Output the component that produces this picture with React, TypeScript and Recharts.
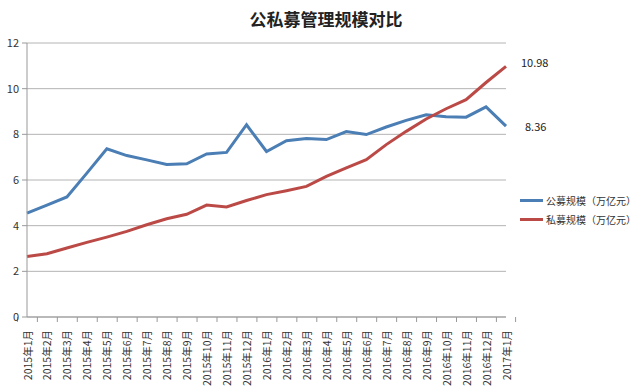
import React from 'react';
import { LineChart, Line, XAxis, YAxis, CartesianGrid, LabelList } from 'recharts';

const months = [
  '2015年1月', '2015年2月', '2015年3月', '2015年4月', '2015年5月', '2015年6月',
  '2015年7月', '2015年8月', '2015年9月', '2015年10月', '2015年11月', '2015年12月',
  '2016年1月', '2016年2月', '2016年3月', '2016年4月', '2016年5月', '2016年6月',
  '2016年7月', '2016年8月', '2016年9月', '2016年10月', '2016年11月', '2016年12月',
  '2017年1月',
];

// 公募规模（万亿元）
const publicFunds = [
  4.55, 4.9, 5.26, 6.3, 7.37, 7.07, 6.88, 6.68, 6.71, 7.14, 7.21, 8.42,
  7.25, 7.72, 7.82, 7.77, 8.12, 7.99, 8.32, 8.61, 8.86, 8.77, 8.75, 9.2, 8.36,
];

// 私募规模（万亿元）
const privateFunds = [
  2.65, 2.77, 3.02, 3.27, 3.5, 3.75, 4.04, 4.3, 4.5, 4.9, 4.82, 5.1,
  5.36, 5.53, 5.72, 6.16, 6.53, 6.89, 7.55, 8.13, 8.67, 9.12, 9.52, 10.27, 10.98,
];

const yTicks = [0, 2, 4, 6, 8, 10, 12];

const seriesNames = ['公募规模（万亿元）', '私募规模（万亿元）'];

const data = months.map((month, i) => ({
  month,
  publicFunds: publicFunds[i],
  privateFunds: privateFunds[i],
}));

const BLUE = '#4a7eb4';
const RED = '#bb4a47';
const FONT = '"Noto Sans CJK SC", "DejaVu Sans", sans-serif';

const W = 640;
const H = 386;
const margin = { top: 43, right: 134, left: 7, bottom: 7 };
const Y_AXIS_W = 20;
const plotW = W - margin.left - margin.right - Y_AXIS_W;
const half = plotW / months.length / 2;

const MonthTick = (props: any) => {
  const { x, y, payload, index } = props;
  return (
    <g>
      <line x1={x - half} x2={x - half} y1={y - 8} y2={y - 3} stroke="#999" />
      {index === months.length - 1 && (
        <line x1={x + half} x2={x + half} y1={y - 8} y2={y - 3} stroke="#999" />
      )}
      <text
        x={x}
        y={y + 5}
        transform={`rotate(-90, ${x}, ${y + 5})`}
        textAnchor="end"
        dominantBaseline="central"
        fontSize={10.5}
        fontFamily={FONT}
        fill="#333"
      >
        {payload.value}
      </text>
    </g>
  );
};

const endLabel = (dx: number, dy: number) => (props: any) => {
  const { x, y, value, index } = props;
  if (index !== months.length - 1) return null;
  return (
    <text x={x + dx} y={y + dy} fontSize={11} fontFamily={FONT} fill="#222" dominantBaseline="central">
      {Number(value).toFixed(2)}
    </text>
  );
};

const LegendBox = () => (
  <div
    style={{
      position: 'absolute',
      left: 520,
      top: 191,
      fontFamily: FONT,
      fontSize: 10,
      color: '#333',
      lineHeight: '19px',
    }}
  >
    {[BLUE, RED].map((color, i) => (
      <div key={seriesNames[i]} style={{ display: 'flex', alignItems: 'center', whiteSpace: 'nowrap' }}>
        <span style={{ display: 'inline-block', width: 23, height: 3, background: color, marginRight: 3 }} />
        {seriesNames[i]}
      </div>
    ))}
  </div>
);

export default function App() {
  return (
    <div style={{ position: 'absolute', left: 0, top: 0, width: W, height: H, background: '#fff' }}>
      <div
        style={{
          position: 'absolute',
          top: 6,
          left: 0,
          width: W,
          textAlign: 'center',
          paddingLeft: 12,
          boxSizing: 'border-box',
          fontFamily: FONT,
          fontSize: 17,
          fontWeight: 'bold',
          color: '#222',
        }}
      >
        公私募管理规模对比
      </div>
      <LineChart width={W} height={H} data={data} margin={margin}>
        <CartesianGrid vertical={false} stroke="#b4b4b4" />
        <XAxis
          dataKey="month"
          interval={0}
          height={62}
          tickLine={false}
          axisLine={{ stroke: '#999' }}
          tick={<MonthTick />}
        />
        <YAxis
          width={Y_AXIS_W}
          domain={[0, 12]}
          ticks={yTicks}
          tickSize={5}
          tickMargin={3}
          axisLine={{ stroke: '#999' }}
          tickLine={{ stroke: '#999' }}
          tick={{ fontSize: 11, fill: '#333', fontFamily: FONT }}
        />
        <Line
          dataKey="publicFunds"
          name={seriesNames[0]}
          stroke={BLUE}
          strokeWidth={3}
          dot={false}
          isAnimationActive={false}
        >
          <LabelList dataKey="publicFunds" content={endLabel(19, 0)} />
        </Line>
        <Line
          dataKey="privateFunds"
          name={seriesNames[1]}
          stroke={RED}
          strokeWidth={3}
          dot={false}
          isAnimationActive={false}
        >
          <LabelList dataKey="privateFunds" content={endLabel(15, -4)} />
        </Line>
      </LineChart>
      <LegendBox />
    </div>
  );
}
